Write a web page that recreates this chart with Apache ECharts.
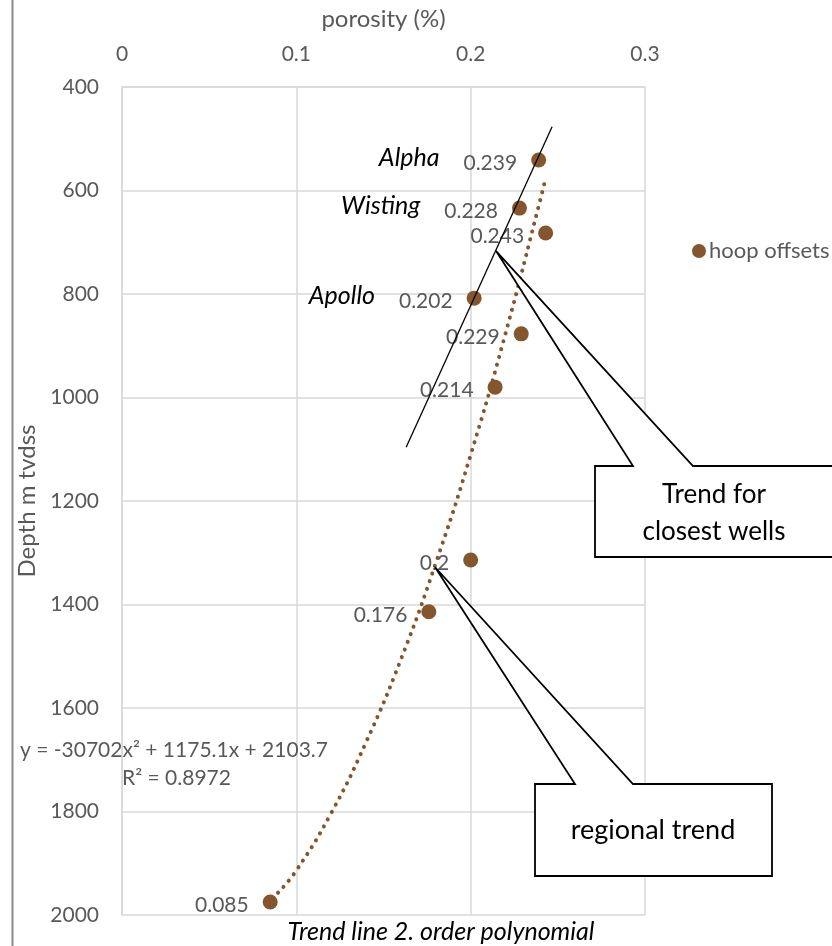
<!DOCTYPE html>
<html><head><meta charset="utf-8">
<script src="https://cdn.jsdelivr.net/npm/echarts@6/dist/echarts.min.js"></script>
<style>html,body{margin:0;padding:0;background:#fff}#c{width:832px;height:946px}</style>
</head><body><div id="c"></div>
<script>
const porosity = [0.239, 0.228, 0.243, 0.202, 0.229, 0.214, 0.2, 0.176, 0.085];
const depth = [541, 634, 682, 808, 877, 980, 1314, 1414, 1975];
const wellNames = ['Alpha', 'Wisting', '', 'Apollo', '', '', '', '', ''];
const regionalTrend = [[0.0895,1957],[0.10,1914],[0.12,1803],[0.14,1666],[0.16,1506],[0.18,1320],[0.20,1111],[0.22,876],[0.24,617],[0.243,576]];
const closestWellsTrend = [[0.163,1096],[0.2467,477]];
const xTicks = [0, 0.1, 0.2, 0.3];
const yTicks = [400, 600, 800, 1000, 1200, 1400, 1600, 1800, 2000];
const seriesName = 'hoop offsets';
const equationText = 'y = -30702x\u00b2 + 1175.1x + 2103.7';
const r2Text = 'R\u00b2 = 0.8972';
const callout1Text = 'Trend for\nclosest wells';
const callout2Text = 'regional trend';
const callout1Tip = [0.2146, 717];
const callout2Tip = [0.1796, 1328];

const FONT = 'Lato';
const GRAY = '#595959';
const BROWN = '#85552d';
const chart = echarts.init(document.getElementById('c'));

const pts = porosity.map((p, i) => ({ value: [p, depth[i]], name: wellNames[i] }));

chart.setOption({
  animation: false,
  textStyle: { fontFamily: FONT },
  grid: { left: 122, top: 87, width: 523, height: 828, containLabel: false },
  legend: {
    data: [seriesName], left: 687, top: 235, icon: 'circle', itemWidth: 14, itemHeight: 14, itemGap: 4,
    textStyle: { fontFamily: FONT, fontSize: 22, color: GRAY, padding: [0, 0, 0, -2] }
  },
  xAxis: {
    type: 'value', position: 'top', min: 0, max: 0.3, interval: 0.1,
    name: 'porosity (%)', nameLocation: 'middle', nameGap: 56,
    nameTextStyle: { fontFamily: FONT, fontSize: 24, color: GRAY },
    axisLine: { show: true, lineStyle: { color: '#d9d9d9', width: 1.5 } },
    axisTick: { show: false },
    axisLabel: { fontFamily: FONT, fontSize: 21, color: GRAY, margin: 22, formatter: v => String(+v.toFixed(1)) },
    splitLine: { show: true, lineStyle: { color: '#d9d9d9', width: 1.5 } }
  },
  yAxis: {
    type: 'value', inverse: true, min: 400, max: 2000, interval: 200,
    name: 'Depth m tvdss', nameLocation: 'middle', nameGap: 74,
    nameTextStyle: { fontFamily: FONT, fontSize: 24, color: GRAY },
    axisLine: { show: true, lineStyle: { color: '#d9d9d9', width: 1.5 } },
    axisTick: { show: false },
    axisLabel: { fontFamily: FONT, fontSize: 21, color: GRAY, margin: 23, formatter: v => String(v) },
    splitLine: { show: true, lineStyle: { color: '#d9d9d9', width: 1.5 } }
  },
  series: [
    {
      name: 'regional', type: 'line', data: regionalTrend, smooth: true, showSymbol: false, symbol: 'none',
      lineStyle: { color: BROWN, width: 4, type: [0.1, 8], cap: 'round' }, z: 2, silent: true
    },
    {
      name: seriesName, type: 'scatter', data: pts, symbolSize: 15, itemStyle: { color: BROWN, opacity: 1 }, z: 3,
      label: {
        show: true, position: 'left', distance: 14, fontFamily: FONT, fontSize: 21, color: GRAY,
        formatter: p => p.name ? '{n|' + p.name + '}{s|}{v|' + p.value[0] + '}' : '{v|' + p.value[0] + '}',
        rich: {
          n: { fontFamily: FONT, fontSize: 25, fontStyle: 'italic', color: '#000', padding: [0, 0, 4, 0] },
          s: { width: 24 },
          v: { fontFamily: FONT, fontSize: 21, color: GRAY, padding: [6, 0, 0, 0] }
        }
      }
    },
    {
      name: 'closest', type: 'line', data: closestWellsTrend, showSymbol: false, symbol: 'none',
      lineStyle: { color: '#000', width: 1.3 }, z: 4, silent: true
    }
  ]
});

function drawGraphics() {
  const t1 = chart.convertToPixel({ gridIndex: 0 }, callout1Tip);
  const t2 = chart.convertToPixel({ gridIndex: 0 }, callout2Tip);
  const style = { fill: '#fff', stroke: '#000', lineWidth: 1.8 };
  chart.setOption({
    graphic: [
      { type: 'line', shape: { x1: 12.5, y1: 0, x2: 12.5, y2: 946 }, style: { stroke: '#8a8a8a', lineWidth: 2 } },
      { type: 'polygon', z: 10, shape: { points: [[595,466],[633,466],t1,[693,466],[845,466],[845,557],[595,557]] }, style },
      { type: 'text', z: 11, style: { text: callout1Text, x: 714, y: 513, align: 'center', verticalAlign: 'middle', font: '26px ' + FONT, fill: '#000', lineHeight: 37 } },
      { type: 'polygon', z: 10, shape: { points: [[535,784],[575,784],t2,[633,784],[772,784],[772,876],[535,876]] }, style },
      { type: 'text', z: 11, style: { text: callout2Text, x: 653, y: 830, align: 'center', verticalAlign: 'middle', font: '27px ' + FONT, fill: '#000' } },
      { type: 'text', z: 11, style: { text: equationText, x: 20, y: 750, align: 'left', verticalAlign: 'middle', font: '21px ' + FONT, fill: GRAY } },
      { type: 'text', z: 11, style: { text: r2Text, x: 122, y: 778, align: 'left', verticalAlign: 'middle', font: '21px ' + FONT, fill: GRAY } },
      { type: 'text', z: 11, style: { text: 'Trend line 2. order polynomial', x: 441, y: 932, align: 'center', verticalAlign: 'middle', font: 'italic 25px ' + FONT, fill: '#000' } }
    ]
  });
}
drawGraphics();
</script></body></html>
